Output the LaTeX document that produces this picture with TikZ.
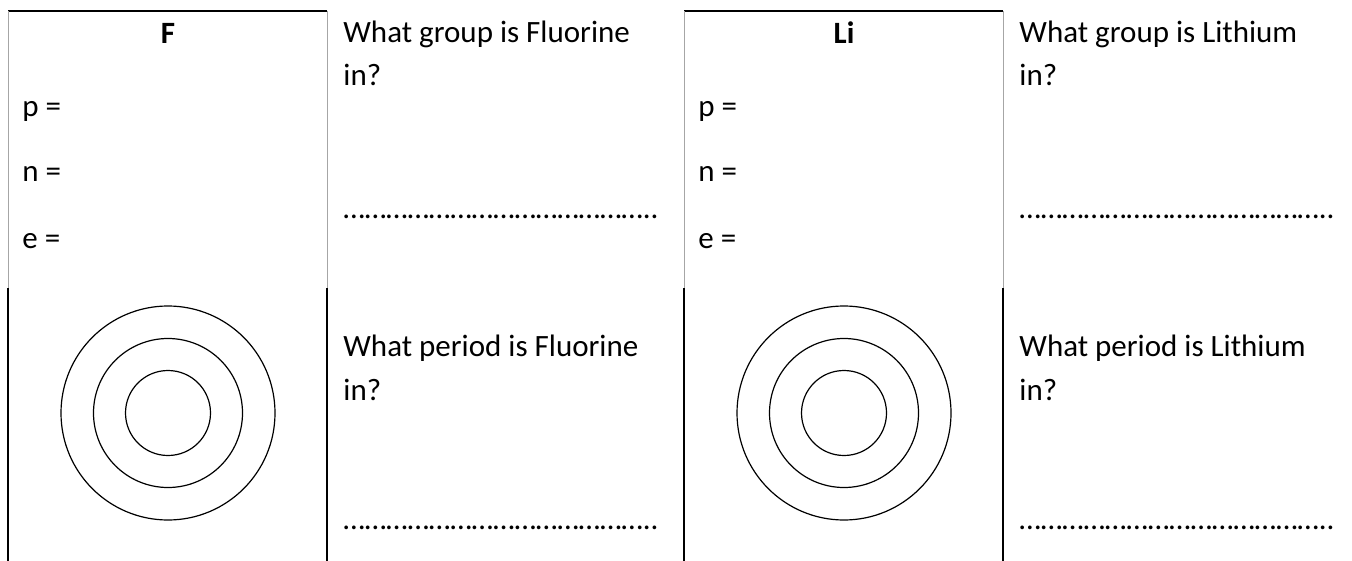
\documentclass[tikz,border=0pt]{standalone}
\usepackage{fontspec}
\setmainfont{Carlito}
\usetikzlibrary{positioning}

\begin{document}
\begin{tikzpicture}[x=0.5pt, y=-0.5pt, edge/.style={line width=0.8pt}, faint/.style={gray!70, line width=0.5pt}, shell/.style={line width=0.6pt}, txt/.style={inner sep=0pt, font=\fontsize{15.5}{21.75}\selectfont}, sym/.style={txt, anchor=base, font=\fontsize{15.5}{21.75}\selectfont\bfseries}, entry/.style={txt, anchor=base west}, quest/.style={txt, anchor=base west, align=left}]

\useasboundingbox (0,0) rectangle (1352,561);
\foreach \x/\el/\name in {8/F/Fluorine, 684/Li/Lithium} {
  \draw[edge] (\x,11) -- (\x+319,11); \draw[faint] (\x,11) -- (\x,288); \draw[faint] (\x+319,11) -- (\x+319,288);
  \draw[edge] (\x,288) -- (\x,561); \draw[edge] (\x+319,288) -- (\x+319,561);
  \node[sym] (sym-\el) at (\x+160,44) {\el};
  \node[entry] (p-\el) at (\x+14,117) {p =}; \node[entry] (n-\el) at (\x+14,182) {n =}; \node[entry] (e-\el) at (\x+14,248) {e =};
  \coordinate (core-\el) at (\x+160,413);
  \draw[shell] (core-\el) circle[radius=53.5pt] (core-\el) circle[radius=37.25pt] (core-\el) circle[radius=21.25pt];
  % base of a two-line node sits on its last line
  \node[quest] (group-\el) at (\x+335,86) {What group is \name\\in?};
  \node[entry] (dots1-\el) at (\x+335,219) {……………………………………..};
  \node[quest] (period-\el) at (\x+335,400) {What period is \name\\in?};
  \node[entry] (dots2-\el) at (\x+335,529) {……………………………………..};
}
\end{tikzpicture}
\end{document}
